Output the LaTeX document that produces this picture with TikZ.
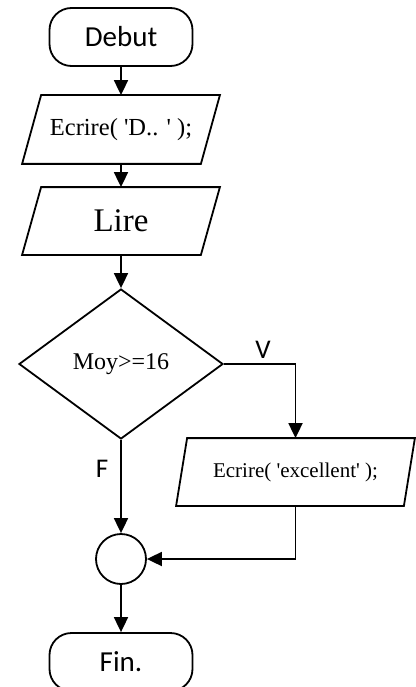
\documentclass[tikz,border=0pt]{standalone}
\usepackage{fontspec}
\setmainfont{Liberation Serif}
\newfontfamily\sansf{Carlito}
\usetikzlibrary{shapes.geometric,arrows.meta,calc}
\newcommand\sq{\XeTeXglyph\XeTeXglyphindex"quotesingle"\relax}
\newcommand\drawpara[2]{\draw ([xshift=#2]#1.north west) -- (#1.north east) -- ([xshift=-#2]#1.south east) -- (#1.south west) -- cycle;}
\begin{document}
\begin{tikzpicture}[x=1pt,y=-1pt,
  line width=1.8pt,
  term/.style={draw, rectangle, rounded corners=22pt, minimum width=143pt, minimum height=58pt, inner sep=0pt, font=\sansf\fontsize{29}{34}\selectfont},
  iobox/.style={rectangle, minimum width=196pt, minimum height=67pt, inner sep=0pt},
  decision/.style={draw, diamond, minimum width=204pt, minimum height=150pt, inner sep=0pt, font=\fontsize{24}{28}\selectfont},
  junction/.style={draw, circle, minimum size=50pt, inner sep=0pt},
  flow/.style={-{Triangle[length=15pt,width=14pt]}},
  lbl/.style={font=\sansf\fontsize{27}{32}\selectfont, anchor=base, inner sep=0pt}
]
\useasboundingbox (0,0) rectangle (415,687);
\node[term] (debut) at (121,37) {Debut};
\node[iobox, font=\fontsize{24.5}{28}\selectfont] (e1) at (121,129.5) {Ecrire( \sq D.. \sq\ );};
\node[iobox, minimum height=66pt, font=\fontsize{33}{38}\selectfont] (lire) at (121,221) {Lire};
\node[decision] (test) at (121,364) {Moy>=16};
\node[iobox, minimum width=237pt, minimum height=66pt, font=\fontsize{21}{25}\selectfont] (exc) at (295.5,472) {Ecrire( \sq excellent\sq\ );};
\node[junction] (join) at (121,559) {};
\node[term] (fin) at (121,662) {Fin.};
\drawpara{e1}{19pt}
\drawpara{lire}{19pt}
\drawpara{exc}{11pt}
\draw[flow] (debut) -- (e1);
\draw[flow] (e1) -- (lire);
\draw[flow] (lire) -- (test);
\draw[flow] (test.east) -| (exc.north);
\draw[flow] (test.south) -- (join.north);
\draw[flow] (exc.south) |- (join.east);
\draw[flow] (join) -- (fin);
\node[lbl] (v) at (263,358) {V};
\node[lbl] (f) at (102,477) {F};
\end{tikzpicture}
\end{document}
